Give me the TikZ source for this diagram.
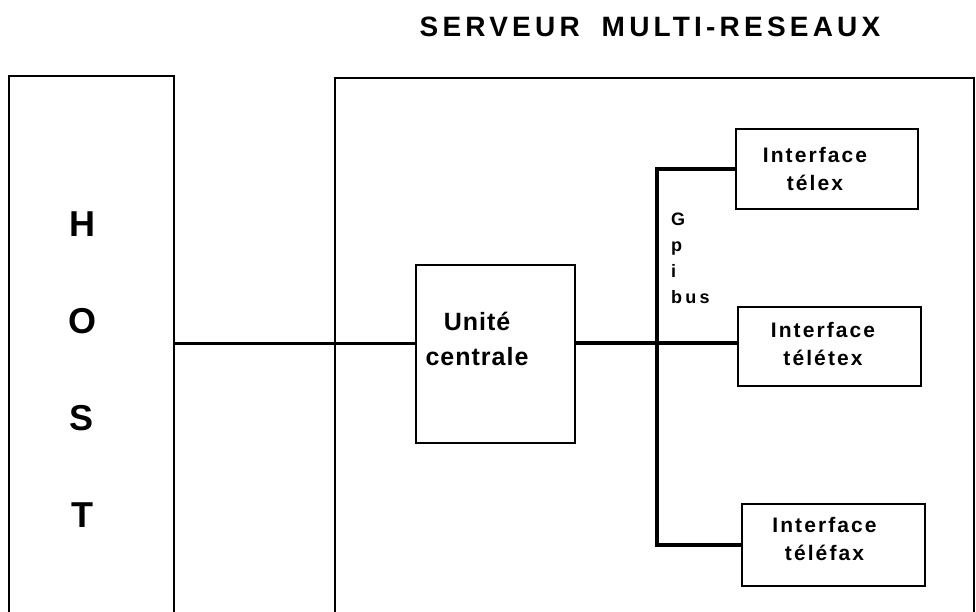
\documentclass[tikz,border=0pt]{standalone}
\usepackage{fontspec}
\setmainfont{Liberation Sans}
\usetikzlibrary{calc}
\tikzset{
  boxline/.style={draw=black, line width=2pt, fill=none, inner sep=0pt},
  busline/.style={draw=black, line width=3.6pt, line cap=rect},
  linkline/.style={draw=black, line width=3pt},
  txt/.style={inner sep=0pt, align=center},
}
\newcommand{\fs}[2]{\fontsize{#1}{#2}\selectfont}
\begin{document}
\begin{tikzpicture}[x=1pt,y=-1pt]
\useasboundingbox (0,0) rectangle (976,612);
\clip (0,0) rectangle (976,612);
\fill[white] (0,0) rectangle (976,612);

% title
\node[txt, font=\fs{28}{28}\bfseries\addfontfeature{LetterSpace=15}] (title) at (650,27) {SERVEUR\hspace{22pt}MULTI-RESEAUX};

% host box
\node[boxline, minimum width=165pt, minimum height=560pt] (host) at (91.5,356) {};
\node[txt, anchor=north, font=\fs{36}{97}\bfseries] (hosttxt) at (82,212) {H\\O\\S\\T};

% server box
\node[boxline, minimum width=639pt, minimum height=560pt] (srv) at (654.5,358) {};

% unite centrale
\node[boxline, minimum width=159pt, minimum height=178pt] (uc) at (495.5,354) {};
\node[txt, font=\fs{25}{35}\bfseries\addfontfeature{LetterSpace=4}] (uctxt) at (477,339) {Unité\\centrale};

% interfaces
\tikzset{iftxt/.style={txt, font=\fs{21}{28}\bfseries\addfontfeature{LetterSpace=10}}}
\node[boxline, minimum width=182pt, minimum height=80pt] (telex) at (827,169) {};
\node[iftxt] (telextxt) at (815,168.5) {Interface\\télex};

\node[boxline, minimum width=183pt, minimum height=79pt] (teletex) at (829.5,346.5) {};
\node[iftxt] (teletextxt) at (823,344) {Interface\\télétex};

\node[boxline, minimum width=183pt, minimum height=82pt] (telefax) at (833.5,545) {};
\node[iftxt] (telefaxtxt) at (824.5,538.5) {Interface\\téléfax};

% bus junction
\coordinate (j) at (657,343);

% links
\draw[linkline] (host.east |- j) -- (uc.west |- j);
\draw[busline] (uc.east |- j) -- (j) -- (teletex.west |- j);
\draw[busline] (telex.west) -- (telex.west -| j) -- (telefax.west -| j) -- (telefax.west);

% Gpi bus label
\node[txt, anchor=north west, align=left, font=\fs{18}{26}\bfseries\addfontfeature{LetterSpace=18}] (gpi) at (671,213) {G\\p\\i\\bus};
\end{tikzpicture}
\end{document}
